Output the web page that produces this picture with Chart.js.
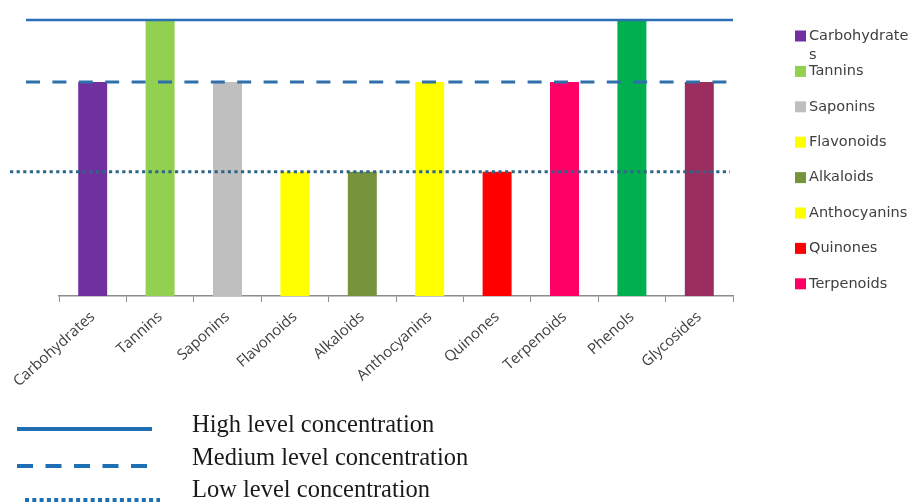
<!DOCTYPE html>
<html>
<head>
<meta charset="utf-8">
<script src="https://cdn.jsdelivr.net/npm/chart.js@4.4.1/dist/chart.umd.min.js"></script>
<style>
  html,body{margin:0;padding:0;background:#fff;}
</style>
</head>
<body>
<canvas id="phytoChart" width="914" height="502"></canvas>
<script>
const categories = ["Carbohydrates","Tannins","Saponins","Flavonoids","Alkaloids","Anthocyanins","Quinones","Terpenoids","Phenols","Glycosides"];
const concentration = [77.5, 100, 77.5, 45, 45, 77.5, 45, 77.5, 100, 77.5];
const barColors = ["#7030a0","#92d050","#bfbfbf","#ffff00","#77933c","#ffff00","#ff0000","#ff0066","#00b050","#9b2d5f"];
const levelNames = ["High level concentration","Medium level concentration","Low level concentration"];
const levelValues = [100, 77.5, 45];
const legendCount = 8;  // side legend stops at Terpenoids

// how each level line looks, inside the plot and in the key below it
const levelStyles = [
  {dash: [],          width: 2.5, color: "#2b70b2", left: 33, right: 0, keyY: 429, keyFrom: 17, keyTo: 152, keyDash: []},
  {dash: [14, 12.4],  width: 3,   color: "#2f6fab", left: 33, right: 6, keyY: 466, keyFrom: 17, keyTo: 150, keyDash: [16, 12.5]},
  {dash: [3.2, 3.4],  width: 3,   color: "#2e6689", left: 49, right: 3, keyY: 500, keyFrom: 25, keyTo: 160, keyDash: [4, 3.3]}
];

function wrapChars(ctx, text, maxW){
  const lines = [];
  let cur = "";
  for (const ch of text){
    if (cur && ctx.measureText(cur + ch).width > maxW){ lines.push(cur); cur = ch; }
    else cur += ch;
  }
  lines.push(cur);
  return lines;
}

const levelLines = {
  id: "levelLines",
  afterDatasetsDraw(chart){
    const {ctx, chartArea, scales:{y}} = chart;
    ctx.save();
    levelValues.forEach((v, i) => {
      const s = levelStyles[i];
      const py = y.getPixelForValue(v);
      ctx.beginPath();
      ctx.setLineDash(s.dash);
      ctx.lineWidth = s.width;
      ctx.strokeStyle = s.color;
      ctx.moveTo(chartArea.left - s.left, py);
      ctx.lineTo(chartArea.right - s.right, py);
      ctx.stroke();
    });
    ctx.restore();
  },
  afterDraw(chart){
    const ctx = chart.ctx;
    const ds = chart.data.datasets[0];
    ctx.save();

    // side legend
    ctx.font = "14.5px 'DejaVu Sans'";
    ctx.textBaseline = "middle";
    for (let i = 0; i < legendCount; i++){
      const cy = 36 + i * 35.4;
      ctx.fillStyle = ds.backgroundColor[i];
      ctx.fillRect(795, cy - 5.5, 11, 11);
      ctx.fillStyle = "#404040";
      wrapChars(ctx, chart.data.labels[i], 102).forEach((ln, j) => {
        ctx.fillText(ln, 809, cy + j * 19);
      });
    }

    // key for the level lines
    ctx.font = "24.5px 'Liberation Serif'";
    ctx.textBaseline = "alphabetic";
    const textY = [432, 465, 497];
    levelNames.forEach((name, i) => {
      const s = levelStyles[i];
      ctx.beginPath();
      ctx.setLineDash(s.keyDash);
      ctx.lineWidth = 4;
      ctx.strokeStyle = "#1f6fb5";
      ctx.moveTo(s.keyFrom, s.keyY);
      ctx.lineTo(s.keyTo, s.keyY);
      ctx.stroke();
      ctx.fillStyle = "#1a1a1a";
      ctx.fillText(name, 192, textY[i]);
    });
    ctx.restore();
  }
};

new Chart(document.getElementById("phytoChart"), {
  type: "bar",
  data: {
    labels: categories,
    datasets: [{
      data: concentration,
      backgroundColor: barColors,
      borderWidth: 0,
      categoryPercentage: 1,
      barPercentage: 0.43
    }]
  },
  options: {
    responsive: false,
    animation: false,
    layout: {padding: {left: 59, right: 181, top: 20, bottom: 0}},
    plugins: {legend: {display: false}, tooltip: {enabled: false}},
    scales: {
      x: {
        afterFit(scale){ scale.height = 206; },
        grid: {display: true, drawOnChartArea: false, drawTicks: true, tickLength: 6, color: "#8c8c8c", offset: true},
        border: {display: true, color: "#8c8c8c", width: 1.5},
        ticks: {
          autoSkip: false, maxRotation: 42, minRotation: 42, padding: 6,
          color: "#404040", font: {family: "'Open Sans'", size: 15}
        }
      },
      y: {display: false, min: 0, max: 100}
    }
  },
  plugins: [levelLines]
});
</script>
</body>
</html>
